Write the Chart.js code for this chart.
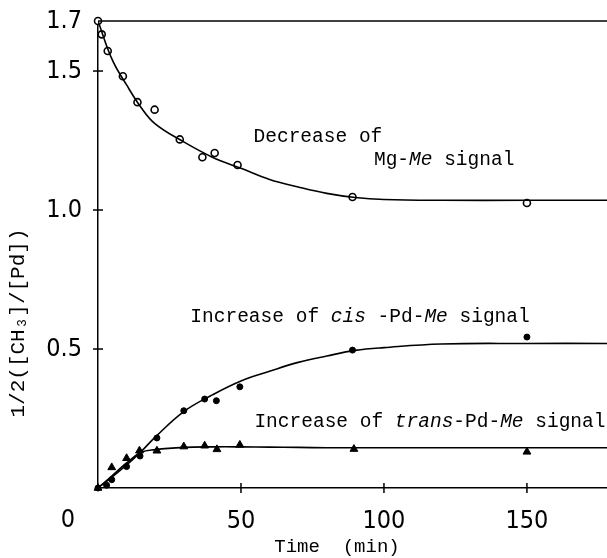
<!DOCTYPE html>
<html>
<head>
<meta charset="utf-8">
<script src="https://cdn.jsdelivr.net/npm/chart.js@4.4.1/dist/chart.umd.min.js"></script>
<style>
  html, body { margin: 0; padding: 0; background: #fff; }
  #wrap { width: 607px; height: 558px; }
</style>
</head>
<body>
<div id="wrap"><canvas id="chart"></canvas></div>
<script>
// measured points (time in min, 1/2([CH3]/[Pd]))
const mgTime = [0, 1.3, 3.4, 8.7, 13.8, 19.8, 28.6, 36.5, 40.8, 48.8, 89, 150];
const mgValue = [1.68, 1.632, 1.572, 1.481, 1.388, 1.361, 1.254, 1.19, 1.205, 1.162, 1.047, 1.025];
const cisTime = [0, 3, 4.8, 10, 14.7, 20.6, 30, 37.3, 41.4, 49.6, 89, 150];
const cisValue = [0, 0.01, 0.03, 0.077, 0.115, 0.18, 0.278, 0.32, 0.314, 0.364, 0.496, 0.543];
const transTime = [0, 4.8, 10, 14.5, 20.6, 30, 37.3, 41.6, 49.6, 89.5, 150];
const transValue = [0, 0.074, 0.107, 0.134, 0.134, 0.149, 0.152, 0.139, 0.155, 0.14, 0.13];

// drawn curves
const fitTime = [0, 5, 10, 15, 20, 30, 40, 50, 60, 70, 80, 90, 100, 120, 150, 178];
const mgFit = [1.68, 1.54, 1.45, 1.37, 1.31, 1.245, 1.19, 1.15, 1.11, 1.083, 1.06, 1.045, 1.038, 1.035, 1.035, 1.035];
const cisFit = [0, 0.04, 0.083, 0.13, 0.183, 0.275, 0.335, 0.385, 0.42, 0.452, 0.475, 0.495, 0.505, 0.518, 0.52, 0.52];
const transFit = [0, 0.045, 0.09, 0.128, 0.138, 0.146, 0.148, 0.148, 0.147, 0.146, 0.145, 0.145, 0.145, 0.145, 0.145, 0.145];

// axis ticks
const xTicks = [0, 50, 100, 150];
const yTicks = [0, 0.5, 1.0, 1.5, 1.68];
const yTickLabels = ['', '0.5', '1.0', '1.5', '1.7'];

const monoFont = '"Liberation Mono", "DejaVu Sans Mono", monospace';
const tickFont = '"Liberation Sans Narrow", "DejaVu Sans Condensed", "Liberation Sans", sans-serif';

// curve labels: [text, italic]
const notes = [
  { x: 54.4, y: 1.263, parts: [['Decrease of', false]] },
  { x: 96.5, y: 1.18, parts: [['Mg-', false], ['Me', true], [' signal', false]] },
  { x: 32.3, y: 0.615, parts: [['Increase of ', false], ['cis', true], [' -Pd-', false], ['Me', true], [' signal', false]] },
  { x: 54.7, y: 0.237, parts: [['Increase of ', false], ['trans', true], ['-Pd-', false], ['Me', true], [' signal', false]] },
];

function pts(xs, ys) {
  return xs.map((x, i) => ({ x, y: ys[i] }));
}

function line(ctx, x1, y1, x2, y2) {
  ctx.beginPath();
  ctx.moveTo(x1, y1);
  ctx.lineTo(x2, y2);
  ctx.stroke();
}

const decorations = {
  id: 'decorations',
  afterDraw(chart) {
    const { ctx, chartArea } = chart;
    const xs = chart.scales.x, ys = chart.scales.y;
    ctx.save();
    ctx.strokeStyle = '#000';
    ctx.fillStyle = '#000';
    ctx.lineWidth = 1.5;
    line(ctx, chartArea.left, chartArea.top, chartArea.right, chartArea.top);

    // cross ticks on both axes
    xTicks.filter((v) => v > 0).forEach((v) => {
      const px = xs.getPixelForValue(v);
      line(ctx, px, chartArea.bottom - 5, px, chartArea.bottom + 5);
    });
    yTicks.filter((v) => v > 0 && v < 1.6).forEach((v) => {
      const py = ys.getPixelForValue(v);
      line(ctx, chartArea.left - 5, py, chartArea.left + 5, py);
    });

    // the "0" sits left of the origin
    ctx.font = '25px ' + tickFont;
    ctx.textAlign = 'center';
    ctx.textBaseline = 'middle';
    ctx.fillText('0', xs.getPixelForValue(0) - 30, 520);

    // axis titles
    ctx.font = '19px ' + monoFont;
    ctx.fillText('Time  (min)', 337, 547);
    ctx.save();
    ctx.translate(18, 323);
    ctx.rotate(-Math.PI / 2);
    ctx.font = '21px ' + monoFont;
    ctx.fillText('1/2([CH₃]/[Pd])', 0, 0);
    ctx.restore();

    // labels beside the curves
    ctx.textAlign = 'left';
    notes.forEach((n) => {
      let px = xs.getPixelForValue(n.x);
      const py = ys.getPixelForValue(n.y);
      n.parts.forEach(([text, italic]) => {
        ctx.font = (italic ? 'italic ' : '') + '19.5px ' + monoFont;
        ctx.fillText(text, px, py);
        px += ctx.measureText(text).width;
      });
    });
    ctx.restore();
  },
};

new Chart(document.getElementById('chart'), {
  type: 'scatter',
  data: {
    datasets: [
      { data: pts(fitTime, mgFit), showLine: true, pointRadius: 0, borderColor: '#000', borderWidth: 1.6, tension: 0.4 },
      { data: pts(fitTime, cisFit), showLine: true, pointRadius: 0, borderColor: '#000', borderWidth: 1.6, tension: 0.4 },
      { data: pts(fitTime, transFit), showLine: true, pointRadius: 0, borderColor: '#000', borderWidth: 1.6, tension: 0.4 },
      { data: pts(mgTime, mgValue), pointStyle: 'circle', pointRadius: 3.5, pointBorderWidth: 1.6, borderColor: '#000', backgroundColor: '#fff', clip: false },
      { data: pts(cisTime, cisValue), pointStyle: 'circle', pointRadius: 3, borderColor: '#000', backgroundColor: '#000', clip: false },
      { data: pts(transTime, transValue), pointStyle: 'triangle', pointRadius: 4.5, borderColor: '#000', backgroundColor: '#000', clip: false },
    ],
  },
  options: {
    responsive: true,
    maintainAspectRatio: false,
    animation: false,
    layout: { autoPadding: false, padding: { top: 21, right: 0, left: 0, bottom: 0 } },
    plugins: { legend: { display: false }, tooltip: { enabled: false } },
    scales: {
      x: {
        type: 'linear',
        min: 0,
        max: 178,
        afterBuildTicks: (scale) => { scale.ticks = xTicks.map((v) => ({ value: v })); },
        afterFit: (scale) => { scale.height = 70; scale.paddingLeft = 0; scale.paddingRight = 0; },
        grid: { display: false, drawTicks: false },
        border: { display: true, color: '#000', width: 1.5 },
        ticks: {
          color: '#000',
          padding: 18,
          maxRotation: 0,
          font: { family: tickFont, size: 25 },
          callback: (v) => (v === 0 ? '' : String(v)),
        },
      },
      y: {
        type: 'linear',
        min: 0,
        max: 1.68,
        afterBuildTicks: (scale) => { scale.ticks = yTicks.map((v) => ({ value: v })); },
        afterFit: (scale) => { scale.width = 98; scale.paddingTop = 0; scale.paddingBottom = 0; },
        grid: { display: false, drawTicks: false },
        border: { display: true, color: '#000', width: 1.5 },
        ticks: {
          color: '#000',
          padding: 16,
          font: { family: tickFont, size: 25 },
          callback: (v) => yTickLabels[yTicks.indexOf(v)],
        },
      },
    },
  },
  plugins: [decorations],
});
</script>
</body>
</html>
